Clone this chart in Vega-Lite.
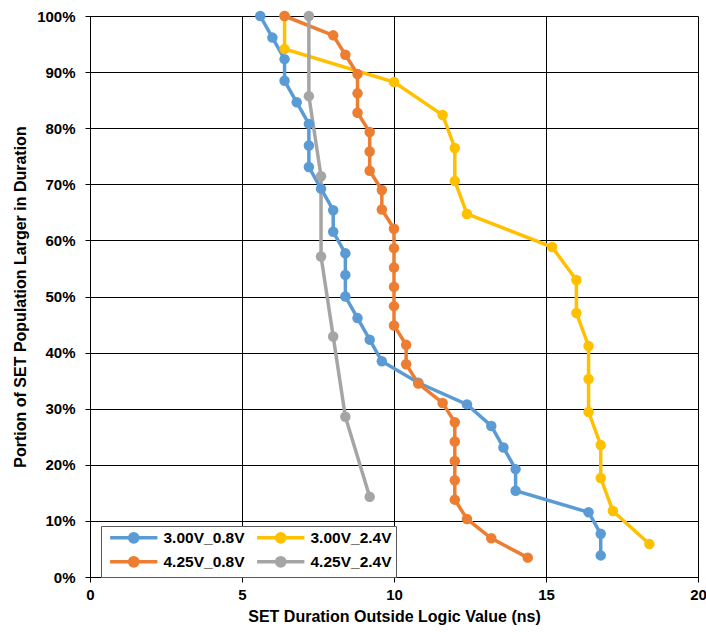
{
  "$schema": "https://vega.github.io/schema/vega-lite/v6.json",
  "width": 608,
  "height": 561,
  "autosize": {"type": "none"},
  "padding": {"left": 90, "top": 16, "right": 8, "bottom": 55},
  "background": "white",
  "config": {"view": {"stroke": null}, "font": "Liberation Sans"},
  "data": {
    "values": [
      {"series": "3.00V_0.8V", "x": 5.6, "y": 1.0},
      {"series": "3.00V_0.8V", "x": 6.0, "y": 0.9615},
      {"series": "3.00V_0.8V", "x": 6.4, "y": 0.9231},
      {"series": "3.00V_0.8V", "x": 6.4, "y": 0.8846},
      {"series": "3.00V_0.8V", "x": 6.8, "y": 0.8462},
      {"series": "3.00V_0.8V", "x": 7.2, "y": 0.8077},
      {"series": "3.00V_0.8V", "x": 7.2, "y": 0.7692},
      {"series": "3.00V_0.8V", "x": 7.2, "y": 0.7308},
      {"series": "3.00V_0.8V", "x": 7.6, "y": 0.6923},
      {"series": "3.00V_0.8V", "x": 8.0, "y": 0.6538},
      {"series": "3.00V_0.8V", "x": 8.0, "y": 0.6154},
      {"series": "3.00V_0.8V", "x": 8.4, "y": 0.5769},
      {"series": "3.00V_0.8V", "x": 8.4, "y": 0.5385},
      {"series": "3.00V_0.8V", "x": 8.4, "y": 0.5},
      {"series": "3.00V_0.8V", "x": 8.8, "y": 0.4615},
      {"series": "3.00V_0.8V", "x": 9.2, "y": 0.4231},
      {"series": "3.00V_0.8V", "x": 9.6, "y": 0.3846},
      {"series": "3.00V_0.8V", "x": 10.8, "y": 0.3462},
      {"series": "3.00V_0.8V", "x": 12.4, "y": 0.3077},
      {"series": "3.00V_0.8V", "x": 13.2, "y": 0.2692},
      {"series": "3.00V_0.8V", "x": 13.6, "y": 0.2308},
      {"series": "3.00V_0.8V", "x": 14.0, "y": 0.1923},
      {"series": "3.00V_0.8V", "x": 14.0, "y": 0.1538},
      {"series": "3.00V_0.8V", "x": 16.4, "y": 0.1154},
      {"series": "3.00V_0.8V", "x": 16.8, "y": 0.0769},
      {"series": "3.00V_0.8V", "x": 16.8, "y": 0.0385},
      {"series": "3.00V_2.4V", "x": 6.4, "y": 1.0},
      {"series": "3.00V_2.4V", "x": 6.4, "y": 0.9412},
      {"series": "3.00V_2.4V", "x": 10.0, "y": 0.8824},
      {"series": "3.00V_2.4V", "x": 11.6, "y": 0.8235},
      {"series": "3.00V_2.4V", "x": 12.0, "y": 0.7647},
      {"series": "3.00V_2.4V", "x": 12.0, "y": 0.7059},
      {"series": "3.00V_2.4V", "x": 12.4, "y": 0.6471},
      {"series": "3.00V_2.4V", "x": 15.2, "y": 0.5882},
      {"series": "3.00V_2.4V", "x": 16.0, "y": 0.5294},
      {"series": "3.00V_2.4V", "x": 16.0, "y": 0.4706},
      {"series": "3.00V_2.4V", "x": 16.4, "y": 0.4118},
      {"series": "3.00V_2.4V", "x": 16.4, "y": 0.3529},
      {"series": "3.00V_2.4V", "x": 16.4, "y": 0.2941},
      {"series": "3.00V_2.4V", "x": 16.8, "y": 0.2353},
      {"series": "3.00V_2.4V", "x": 16.8, "y": 0.1765},
      {"series": "3.00V_2.4V", "x": 17.2, "y": 0.1176},
      {"series": "3.00V_2.4V", "x": 18.4, "y": 0.0588},
      {"series": "4.25V_0.8V", "x": 6.4, "y": 1.0},
      {"series": "4.25V_0.8V", "x": 8.0, "y": 0.9655},
      {"series": "4.25V_0.8V", "x": 8.4, "y": 0.931},
      {"series": "4.25V_0.8V", "x": 8.8, "y": 0.8966},
      {"series": "4.25V_0.8V", "x": 8.8, "y": 0.8621},
      {"series": "4.25V_0.8V", "x": 8.8, "y": 0.8276},
      {"series": "4.25V_0.8V", "x": 9.2, "y": 0.7931},
      {"series": "4.25V_0.8V", "x": 9.2, "y": 0.7586},
      {"series": "4.25V_0.8V", "x": 9.2, "y": 0.7241},
      {"series": "4.25V_0.8V", "x": 9.6, "y": 0.6897},
      {"series": "4.25V_0.8V", "x": 9.6, "y": 0.6552},
      {"series": "4.25V_0.8V", "x": 10.0, "y": 0.6207},
      {"series": "4.25V_0.8V", "x": 10.0, "y": 0.5862},
      {"series": "4.25V_0.8V", "x": 10.0, "y": 0.5517},
      {"series": "4.25V_0.8V", "x": 10.0, "y": 0.5172},
      {"series": "4.25V_0.8V", "x": 10.0, "y": 0.4828},
      {"series": "4.25V_0.8V", "x": 10.0, "y": 0.4483},
      {"series": "4.25V_0.8V", "x": 10.4, "y": 0.4138},
      {"series": "4.25V_0.8V", "x": 10.4, "y": 0.3793},
      {"series": "4.25V_0.8V", "x": 10.8, "y": 0.3448},
      {"series": "4.25V_0.8V", "x": 11.6, "y": 0.3103},
      {"series": "4.25V_0.8V", "x": 12.0, "y": 0.2759},
      {"series": "4.25V_0.8V", "x": 12.0, "y": 0.2414},
      {"series": "4.25V_0.8V", "x": 12.0, "y": 0.2069},
      {"series": "4.25V_0.8V", "x": 12.0, "y": 0.1724},
      {"series": "4.25V_0.8V", "x": 12.0, "y": 0.1379},
      {"series": "4.25V_0.8V", "x": 12.4, "y": 0.1034},
      {"series": "4.25V_0.8V", "x": 13.2, "y": 0.069},
      {"series": "4.25V_0.8V", "x": 14.4, "y": 0.0345},
      {"series": "4.25V_2.4V", "x": 7.2, "y": 1.0},
      {"series": "4.25V_2.4V", "x": 7.2, "y": 0.8571},
      {"series": "4.25V_2.4V", "x": 7.6, "y": 0.7143},
      {"series": "4.25V_2.4V", "x": 7.6, "y": 0.5714},
      {"series": "4.25V_2.4V", "x": 8.0, "y": 0.4286},
      {"series": "4.25V_2.4V", "x": 8.4, "y": 0.2857},
      {"series": "4.25V_2.4V", "x": 9.2, "y": 0.1429}
    ]
  },
  "encoding": {
    "x": {
      "field": "x", "type": "quantitative",
      "scale": {"domain": [0, 20], "nice": false, "zero": false},
      "axis": {
        "title": "SET Duration Outside Logic Value (ns)",
        "values": [0, 5, 10, 15, 20],
        "grid": true, "gridColor": "#000", "gridWidth": 1,
        "domainColor": "#000", "domainWidth": 1,
        "tickColor": "#000", "tickSize": 5, "tickWidth": 1,
        "labelFont": "Liberation Sans", "labelFontSize": 15, "labelFontWeight": "bold", "labelColor": "#000",
        "labelPadding": 5, "labelFlush": false,
        "titleFont": "Liberation Sans", "titleFontSize": 16, "titleFontWeight": "bold", "titleColor": "#000",
        "titlePadding": 6
      }
    },
    "y": {
      "field": "y", "type": "quantitative",
      "scale": {"domain": [0, 1], "nice": false},
      "axis": {
        "title": "Portion of SET Population Larger in Duration",
        "values": [0, 0.1, 0.2, 0.3, 0.4, 0.5, 0.6, 0.7, 0.8, 0.9, 1.0],
        "format": ".0%",
        "grid": true, "gridColor": "#000", "gridWidth": 1,
        "domainColor": "#000", "domainWidth": 1,
        "tickColor": "#000", "tickSize": 5, "tickWidth": 1,
        "labelFont": "Liberation Sans", "labelFontSize": 15, "labelFontWeight": "bold", "labelColor": "#000",
        "labelPadding": 10, "labelFlush": false,
        "titleFont": "Liberation Sans", "titleFontSize": 16, "titleFontWeight": "bold", "titleColor": "#000",
        "titlePadding": 8
      }
    },
    "color": {
      "field": "series", "type": "nominal",
      "scale": {
        "domain": ["3.00V_0.8V", "3.00V_2.4V", "4.25V_0.8V", "4.25V_2.4V"],
        "range": ["#5B9BD5", "#FFC000", "#ED7D31", "#A5A5A5"]
      },
      "legend": {
        "title": null,
        "orient": "none",
        "legendX": 11,
        "legendY": 510,
        "columns": 2,
        "direction": "horizontal",
        "symbolType": "M-4.3,0H4.3M-0.75,0A0.75,0.75,0,1,1,0.75,0A0.75,0.75,0,1,1,-0.75,0",
        "symbolSize": 121,
        "symbolStrokeWidth": 3.5,
        "symbolOffset": 21,
        "labelOffset": 22,
        "labelFont": "Liberation Sans",
        "labelFontSize": 15.5,
        "labelFontWeight": "bold",
        "labelColor": "#000",
        "strokeColor": "#595959",
        "fillColor": "white",
        "padding": 4,
        "rowPadding": 1,
        "columnPadding": 5,
        "encode": {
          "symbols": {
            "update": {
              "stroke": {"scale": "color", "field": "value"},
              "fill": {"scale": "color", "field": "value"},
              "opacity": {"value": 1}
            }
          }
        }
      }
    }
  },
  "layer": [
    {
      "mark": {"type": "line", "strokeWidth": 3.5},
      "encoding": {"order": {"field": "y", "sort": "descending"}}
    },
    {
      "mark": {"type": "point", "filled": true, "size": 110, "opacity": 1}
    }
  ]
}
